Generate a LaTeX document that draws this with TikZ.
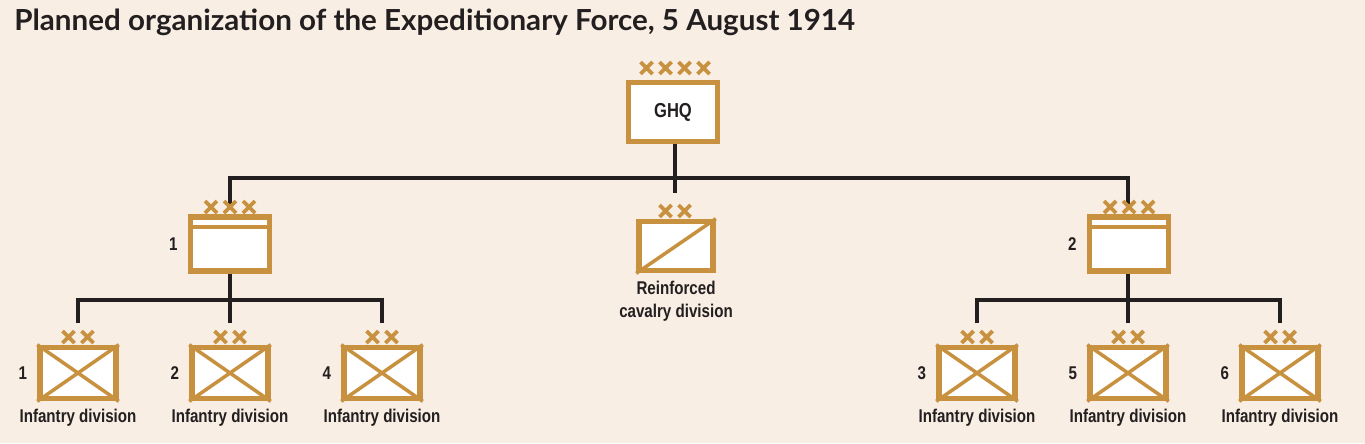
\documentclass[tikz,border=0pt]{standalone}
\usepackage{fontspec}
\setmainfont{Liberation Sans}[FakeStretch=0.82]
\newfontfamily\titlefont{Lato}
\usetikzlibrary{shadows,calc,positioning}
\definecolor{paper}{HTML}{F8EEE3}
\definecolor{ochre}{HTML}{C8913F}
\definecolor{ink}{HTML}{231F20}

\tikzset{
  unit/.style={draw=ochre, line width=3.2pt, fill=white, minimum width=#1, minimum height=1cm, inner sep=0pt,
    drop shadow={shadow xshift=0pt, shadow yshift=0pt, fill=gray, opacity=0.35}},
  unit/.default=1.5cm,
  link/.style={ink, line width=2.2pt},
  lbl/.style={font=\bfseries\fontsize{10.5}{12}\selectfont, text=ink, align=center},
  num/.style={lbl, anchor=east}
}
% n crosses centred at (x,y)
\newcommand{\ranks}[3]{%
  \foreach \k in {1,...,#1}
    \draw[ochre, line width=2.2pt] ($(#2+\k*19-#1*9.5-9.5-6,#3-6)$) -- ++(12,12) ++(-12,0) -- ++(12,-12);}

\begin{document}
\begin{tikzpicture}[x=0.02cm, y=-0.02cm]
\fill[paper] (0,0) rectangle (1365,443);
\useasboundingbox (0,0) rectangle (1365,443);

\node[anchor=west, font=\titlefont\bfseries\fontsize{16.5}{18}\selectfont, text=ink, xscale=1.02] (title) at (8,22)
  {Planned organization of the Expeditionary Force, 5 August 1914};

% links first
\draw[link] (675,143) -- (675,178);
\draw[link] (230,205) -- (230,178) -- (1128,178) -- (1128,205);
\draw[link] (675,178) -- (675,193);
\draw[link] (230,273) -- (230,323);
\draw[link] (78,323) -- (78,300) -- (382,300) -- (382,323);
\draw[link] (1128,273) -- (1128,323);
\draw[link] (977,323) -- (977,300) -- (1280,300) -- (1280,323);

% GHQ
\node[unit=1.78cm, minimum height=1.18cm, font=\bfseries\fontsize{11.5}{12}\selectfont, text=ink] (ghq) at (673,112) {GHQ};
\ranks{4}{675}{68}

% corps
\foreach \cx/\n/\name in {230/1/corpsA, 1129/2/corpsB}{
  \node[unit=1.58cm, minimum height=1.08cm] (\name) at (\cx,244) {};
  \draw[ochre, line width=2.6pt] ($(\name.north west)+(0,13)$) -- ($(\name.north east)+(0,13)$);
  \node[num] at ($(\name.west)+(-4,0)$) {\n};
  \ranks{3}{\cx}{207}
}

% cavalry
\node[unit=1.48cm, minimum height=0.98cm] (cav) at (676,246) {};
\draw[ochre, line width=2pt] (cav.south west) -- (cav.north east);
\node[lbl, below=1pt of cav] (cavlbl) {Reinforced\\[1pt]cavalry division};
\ranks{2}{675}{211}

% infantry divisions
\foreach \cx/\n in {78/1, 230/2, 382/4, 977/3, 1128/5, 1280/6}{
  \node[unit=1.52cm, minimum height=1.02cm] (div\n) at (\cx,373) {};
  \draw[ochre, line width=2pt] (div\n.south west) -- (div\n.north east) (div\n.north west) -- (div\n.south east);
  \node[num] at ($(div\n.west)+(-4,0)$) {\n};
  \node[lbl, below=1pt of div\n] {Infantry division};
  \ranks{2}{\cx}{337}
}
\end{tikzpicture}
\end{document}
